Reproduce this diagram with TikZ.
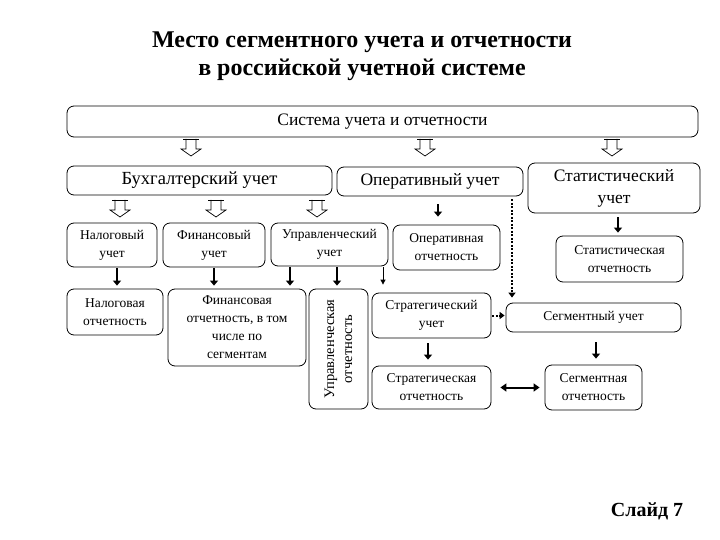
\documentclass[tikz,border=0pt]{standalone}
\usepackage{fontspec}
\setmainfont{Liberation Serif}
\usetikzlibrary{arrows.meta}
\begin{document}
\begin{tikzpicture}[x=1pt,y=-1pt,
  box/.style={draw, line width=0.8pt, rounded corners=7pt, fill=white, align=center, inner sep=1pt},
  big/.style={font=\fontsize{17.5}{22}\selectfont},
  mid/.style={font=\fontsize{13.5}{18}\selectfont},
  sml/.style={font=\fontsize{13.5}{18}\selectfont},
  sarr/.style={line width=2.2pt, -{Triangle[length=5pt,width=8pt]}},
  tarr/.style={line width=0.8pt, -{Triangle[length=5pt,width=5pt]}},
  darr/.style={line width=2pt, dash pattern=on 2pt off 1.5pt, -{Triangle[length=5pt,width=7pt]}},
  bidir/.style={line width=2pt, {Triangle[length=6pt,width=8pt]}-{Triangle[length=6pt,width=8pt]}},
  hollow/.pic={\draw[line width=0.7pt, line join=miter] (-5,0) -- (-5,10) -- (-10,10) -- (0,17) -- (10,10) -- (5,10) -- (5,0);
               \draw[line width=0.7pt] (-8,0) -- (8,0);}
]
\useasboundingbox (0,0) rectangle (720,540);

% title
\node[font=\fontsize{24}{28}\selectfont\bfseries, align=center] (title) at (362,56)
  {Место сегментного учета и отчетности\\в российской учетной системе};
\node[font=\fontsize{20}{24}\selectfont\bfseries, anchor=base] (slide) at (647,516) {Слайд 7};

% boxes
\node[box, big, minimum width=631, minimum height=31] (sys) at (382.5,121.5) {Система учета и отчетности};
\node[box, font=\fontsize{18.5}{22}\selectfont, minimum width=265, minimum height=29] (buh) at (199.5,180.5) {Бухгалтерский учет};
\node[box, big, minimum width=186, minimum height=29] (oper) at (430,181.5) {Оперативный учет};
\node[box, big, minimum width=172, minimum height=50] (stat) at (614,188) {Статистический\\учет};

\node[box, mid, minimum width=90, minimum height=44] (nalu) at (112,245) {Налоговый\\учет};
\node[box, mid, minimum width=102, minimum height=44] (finu) at (214,245) {Финансовый\\учет};
\node[box, mid, minimum width=117, minimum height=43] (upru) at (329.5,244.5) {Управленческий\\учет};
\node[box, mid, minimum width=107, minimum height=45] (opero) at (446.5,247.5) {Оперативная\\отчетность};
\node[box, mid, minimum width=127, minimum height=46] (stato) at (619.5,259) {Статистическая\\отчетность};

\node[box, sml, minimum width=96, minimum height=46] (nalo) at (115,312) {Налоговая\\отчетность};
\node[box, sml, minimum width=138, minimum height=77] (fino) at (237,327.5) {Финансовая\\отчетность, в том\\числе по\\сегментам};
\node[box, font=\fontsize{14.5}{18}\selectfont, minimum width=120, minimum height=59, rotate=90] (upro) at (338.5,349) {Управленческая\\отчетность};
\node[box, sml, minimum width=119, minimum height=45] (stru) at (431.5,315.5) {Стратегический\\учет};
\node[box, sml, minimum width=119, minimum height=43] (stro) at (431.5,387.5) {Стратегическая\\отчетность};
\node[box, sml, minimum width=175, minimum height=29] (segu) at (593.5,317.5) {Сегментный учет};
\node[box, sml, minimum width=97, minimum height=45] (sego) at (593.5,387.5) {Сегментная\\отчетность};

% hollow arrows
\pic at (191,139) {hollow};
\pic at (425,139) {hollow};
\pic at (612,139) {hollow};
\pic at (120,200) {hollow};
\pic at (216,200) {hollow};
\pic at (317,200) {hollow};

% column coordinates
\coordinate (c117) at (117,0);
\coordinate (c214) at (214,0);
\coordinate (c290) at (290,0);
\coordinate (c337) at (337,0);
\coordinate (c383) at (383,0);
\coordinate (c438) at (438,0);
\coordinate (c512) at (512,0);
\coordinate (c618) at (618,0);
\coordinate (c428) at (428,0);
\coordinate (c596) at (596,0);

% solid arrows
\draw[sarr, shorten <=1pt, shorten >=3pt] (nalu.south -| c117) -- (nalo.north -| c117);
\draw[sarr, shorten <=1pt, shorten >=3pt] (finu.south -| c214) -- (fino.north -| c214);
\draw[sarr, shorten <=1pt, shorten >=3pt] (upru.south -| c290) -- (fino.north -| c290);
\draw[sarr, shorten <=1pt, shorten >=3pt] (upru.south -| c337) -- (upro.east -| c337);
\draw[tarr, shorten <=1pt, shorten >=8pt] (upru.south -| c383) -- (stru.north -| c383);
\draw[sarr, shorten <=8pt, shorten >=8pt] (oper.south -| c438) -- (opero.north -| c438);
\draw[sarr, shorten <=4pt, shorten >=3pt] (stat.south -| c618) -- (stato.north -| c618);
\draw[sarr, shorten <=5pt, shorten >=6pt] (stru.south -| c428) -- (stro.north -| c428);
\draw[sarr, shorten <=10pt, shorten >=6pt] (segu.south -| c596) -- (sego.north -| c596);
\draw[bidir, shorten <=9pt, shorten >=5pt] (stro.east) -- (sego.west);

% dotted arrows
\draw[darr, shorten <=3pt, shorten >=5pt] (oper.south -| c512) -- (segu.north -| c512);
\draw[darr, shorten <=1pt, shorten >=1pt] (stru.east) -- (stru.east -| segu.west);
\end{tikzpicture}
\end{document}
